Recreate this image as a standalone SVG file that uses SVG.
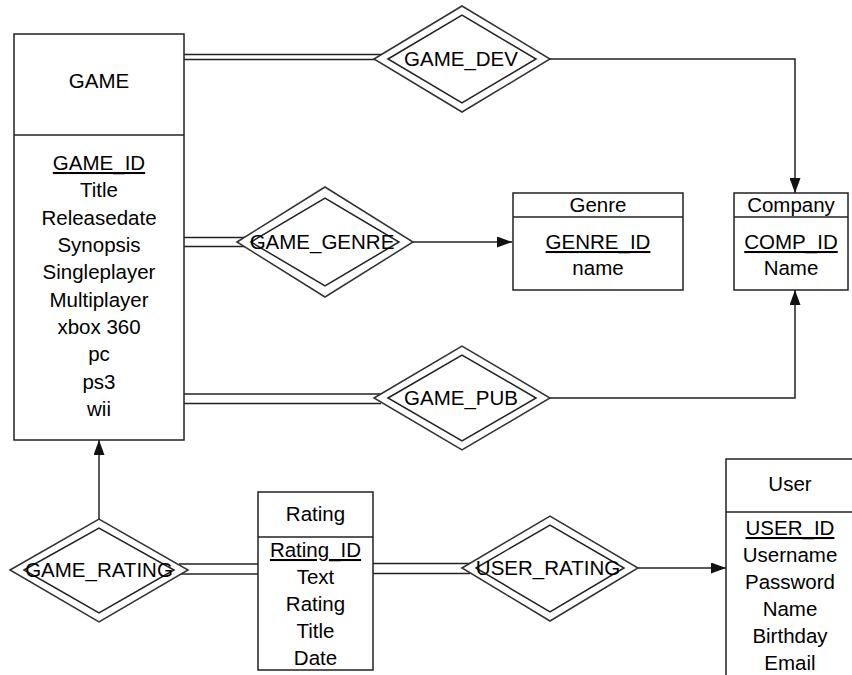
<svg xmlns="http://www.w3.org/2000/svg" width="852" height="675" viewBox="0 0 852 675">
<style>
.box{fill:#fff;stroke:#222;stroke-width:1.5}
.ln{fill:none;stroke:#222;stroke-width:1.5}
.dia{fill:#fff;stroke:#333;stroke-width:1.5}
text{font-family:"Liberation Sans",Arial,sans-serif;font-size:20.5px;fill:#000;text-anchor:middle}
.u{text-decoration:underline}
</style>
<defs>
<marker id="arr" viewBox="0 0 15 11" refX="15" refY="5.5" markerWidth="15" markerHeight="11" markerUnits="userSpaceOnUse" orient="auto">
<path d="M0,0 L15,5.5 L0,11 Z" fill="#111"/>
</marker>
</defs>
<rect width="852" height="675" fill="#fff"/>

<g id="connectors">
<line class="ln" x1="184" y1="54.5" x2="382" y2="54.5"/>
<line class="ln" x1="184" y1="59.5" x2="376" y2="59.5"/>
<polyline class="ln" points="550,59 795,59 795,193" marker-end="url(#arr)"/>
<line class="ln" x1="184" y1="237.5" x2="245" y2="237.5"/>
<line class="ln" x1="184" y1="246.5" x2="245" y2="246.5"/>
<line class="ln" x1="412" y1="242" x2="512" y2="242" marker-end="url(#arr)"/>
<line class="ln" x1="184" y1="394" x2="381" y2="394"/>
<line class="ln" x1="184" y1="403.5" x2="381" y2="403.5"/>
<polyline class="ln" points="550,398 795,398 795,290" marker-end="url(#arr)"/>
<line class="ln" x1="99" y1="519" x2="99" y2="440" marker-end="url(#arr)"/>
<line class="ln" x1="179" y1="564" x2="258" y2="564"/>
<line class="ln" x1="179" y1="574" x2="258" y2="574"/>
<line class="ln" x1="373" y1="563.5" x2="470" y2="563.5"/>
<line class="ln" x1="373" y1="573.5" x2="470" y2="573.5"/>
<line class="ln" x1="637" y1="568" x2="726" y2="568" marker-end="url(#arr)"/>
</g>

<g id="GAME">
<rect class="box" x="14" y="34" width="170" height="406"/>
<line class="ln" x1="14" y1="135" x2="184" y2="135"/>
<text x="99" y="88">GAME</text>
<text x="99" y="170" class="u">GAME_ID</text>
<text x="99" y="197">Title</text>
<text x="99" y="224.5">Releasedate</text>
<text x="99" y="252">Synopsis</text>
<text x="99" y="279">Singleplayer</text>
<text x="99" y="306.5">Multiplayer</text>
<text x="99" y="334">xbox 360</text>
<text x="99" y="361">pc</text>
<text x="99" y="388.5">ps3</text>
<text x="99" y="416">wii</text>
</g>

<g id="GAME_DEV">
<polygon class="dia" points="374,59 462,6 550,59 462,112"/>
<polygon class="ln" points="388,59 462,15 536,59 462,103"/>
<text x="461" y="66">GAME_DEV</text>
</g>

<g id="GAME_GENRE">
<polygon class="dia" points="237,242 325,187 413,242 325,297"/>
<polygon class="ln" points="251,242 325,198 399,242 325,286"/>
<text x="322" y="249">GAME_GENRE</text>
</g>

<g id="GAME_PUB">
<polygon class="dia" points="374,398 462,346 550,398 462,450"/>
<polygon class="ln" points="388,398 462,355 536,398 462,441"/>
<text x="461" y="405">GAME_PUB</text>
</g>

<g id="Genre">
<rect class="box" x="513" y="193" width="170" height="97"/>
<line class="ln" x1="513" y1="217" x2="683" y2="217"/>
<text x="598" y="212">Genre</text>
<text x="598" y="249" class="u">GENRE_ID</text>
<text x="598" y="275">name</text>
</g>

<g id="Company">
<rect class="box" x="734" y="193" width="114" height="97"/>
<line class="ln" x1="734" y1="217" x2="848" y2="217"/>
<text x="791" y="212">Company</text>
<text x="791" y="249" class="u">COMP_ID</text>
<text x="791" y="275">Name</text>
</g>

<g id="GAME_RATING">
<polygon class="dia" points="10,570 99,519 188,570 99,622"/>
<polygon class="ln" points="24,570 99,528 174,570 99,613"/>
<text x="99" y="577">GAME_RATING</text>
</g>

<g id="Rating">
<rect class="box" x="258" y="492" width="115" height="178"/>
<line class="ln" x1="258" y1="537" x2="373" y2="537"/>
<text x="315.5" y="521">Rating</text>
<text x="315.5" y="557" class="u">Rating_ID</text>
<text x="315.5" y="584">Text</text>
<text x="315.5" y="611">Rating</text>
<text x="315.5" y="638">Title</text>
<text x="315.5" y="665">Date</text>
</g>

<g id="USER_RATING">
<polygon class="dia" points="462,568 550,516 638,568 550,621"/>
<polygon class="ln" points="476,568 550,525 624,568 550,612"/>
<text x="548" y="575">USER_RATING</text>
</g>

<g id="User">
<rect class="box" x="726" y="459" width="130" height="230"/>
<line class="ln" x1="726" y1="512" x2="856" y2="512"/>
<text x="790" y="491">User</text>
<text x="790" y="535" class="u">USER_ID</text>
<text x="790" y="562">Username</text>
<text x="790" y="589">Password</text>
<text x="790" y="616">Name</text>
<text x="790" y="643">Birthday</text>
<text x="790" y="670">Email</text>
</g>
</svg>
